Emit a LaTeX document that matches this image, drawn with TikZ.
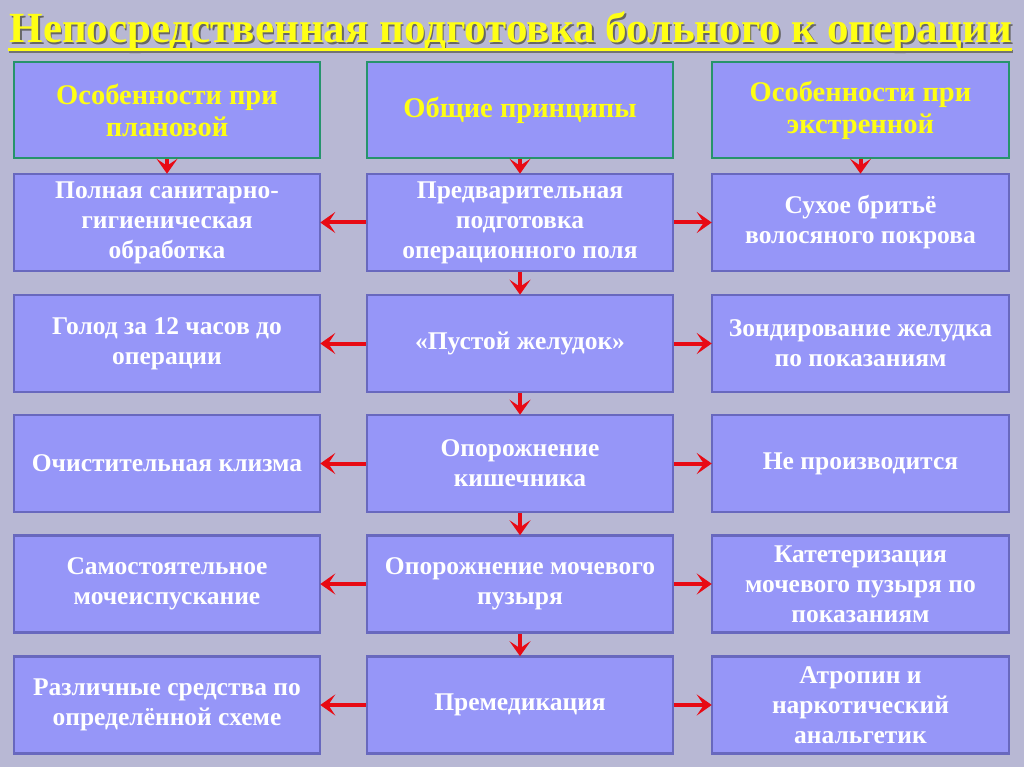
\documentclass[tikz,border=0pt]{standalone}
\usepackage{fontspec}
\setmainfont{Liberation Serif}
\usetikzlibrary{arrows.meta}

\definecolor{bgcol}{RGB}{184,184,212}
\definecolor{boxfill}{RGB}{150,150,248}
\definecolor{boxline}{RGB}{104,104,190}
\definecolor{headline}{RGB}{38,148,108}
\definecolor{titlecol}{RGB}{255,255,20}
\definecolor{arrowcol}{RGB}{232,10,20}

\begin{document}
\begin{tikzpicture}[x=1pt,y=-1pt]
		% Define styles for boxes and arrows
		\tikzset{
			box/.style={draw=boxline, line width=2.5pt, fill=boxfill, minimum width=306pt, minimum height=97pt, align=center, text=white, font=\fontsize{25.5}{30}\selectfont\bfseries, inner sep=2pt},
			headbox/.style={box, draw=headline, minimum height=96pt, text=titlecol, font=\fontsize{28.5}{32}\selectfont\bfseries},
			redarrow/.style={draw=arrowcol, line width=4pt, -{Stealth[length=15pt,width=21pt,inset=7pt]}, shorten >=-1pt}
		}
		
		% Background and bounding box
		\fill[bgcol] (0,0) rectangle (1024,767);
		\useasboundingbox (0,0) rectangle (1024,767);
		
		% Title with shadow and underline
		\node[text=black!60, font=\fontsize{43}{45}\selectfont\bfseries, inner sep=0, anchor=base] at (512.5,44.5) {Непосредственная подготовка больного к операции};
		\node (title) [text=titlecol, font=\fontsize{43}{45}\selectfont\bfseries, inner sep=0, anchor=base] at (511,43) {Непосредственная подготовка больного к операции};
		\draw[black!55, line width=3pt] (9,51.5) -- (1013,51.5);
		\draw[titlecol, line width=3pt] (8,50) -- (1012,50);
		
		% Header boxes
		\node[headbox] (hplan) at (167,110) {Особенности при\\плановой};
		\node[headbox] (hgen) at (520,110) {Общие принципы};
		\node[headbox, minimum width=297pt] (hext) at (860.5,110) {Особенности при\\экстренной};
		
		% Left column
		\node[box] (l1) at (167,222.5) {Полная санитарно-\\гигиеническая\\обработка};
		\node[box] (l2) at (167,343.5) {Голод за 12 часов до\\операции};
		\node[box] (l3) at (167,463.5) {Очистительная клизма};
		\node[box] (l4) at (167,584) {Самостоятельное\\мочеиспускание};
		\node[box] (l5) at (167,705) {Различные средства по\\определённой схеме};
		
		% Middle column
		\node[box] (c1) at (520,222.5) {Предварительная\\подготовка\\операционного поля};
		\node[box] (c2) at (520,343.5) {«Пустой желудок»};
		\node[box] (c3) at (520,463.5) {Опорожнение\\кишечника};
		\node[box] (c4) at (520,584) {Опорожнение мочевого\\пузыря};
		\node[box] (c5) at (520,705) {Премедикация};
		
		% Right column
		\node[box, minimum width=297pt] (r1) at (860.5,222.5) {Сухое бритьё\\волосяного покрова};
		\node[box, minimum width=297pt] (r2) at (860.5,343.5) {Зондирование желудка\\по показаниям};
		\node[box, minimum width=297pt] (r3) at (860.5,463.5) {Не производится};
		\node[box, minimum width=297pt] (r4) at (860.5,584) {Катетеризация\\мочевого пузыря по\\показаниям};
		\node[box, minimum width=297pt] (r5) at (860.5,705) {Атропин и\\наркотический\\анальгетик};
		
		% Arrows from the headers
		\draw[redarrow] (hplan.south) -- (l1.north);
		\draw[redarrow] (hgen.south) -- (c1.north);
		\draw[redarrow] (hext.south) -- (r1.north);
		
		% Arrows down the middle column
		\draw[redarrow] (c1.south) -- (c2.north);
		\draw[redarrow] (c2.south) -- (c3.north);
		\draw[redarrow] (c3.south) -- (c4.north);
		\draw[redarrow] (c4.south) -- (c5.north);
		
		% Arrows to the sides
		\draw[redarrow] (c1.west) -- (l1.east);
		\draw[redarrow] (c2.west) -- (l2.east);
		\draw[redarrow] (c3.west) -- (l3.east);
		\draw[redarrow] (c4.west) -- (l4.east);
		\draw[redarrow] (c5.west) -- (l5.east);
		\draw[redarrow] (c1.east) -- (r1.west);
		\draw[redarrow] (c2.east) -- (r2.west);
		\draw[redarrow] (c3.east) -- (r3.west);
		\draw[redarrow] (c4.east) -- (r4.west);
		\draw[redarrow] (c5.east) -- (r5.west);
	\end{tikzpicture}
\end{document}
